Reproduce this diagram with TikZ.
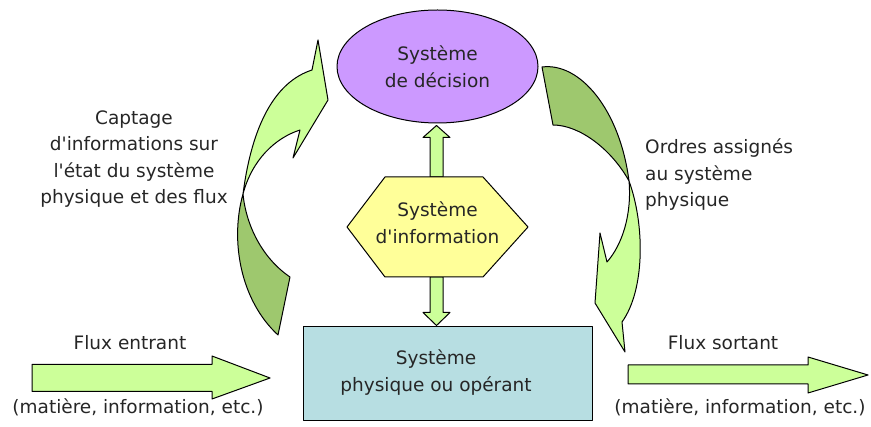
\documentclass[tikz,border=0pt]{standalone}
\usepackage{fontspec}
\setmainfont{DejaVu Sans}[Ligatures=TeXOff]
\usetikzlibrary{calc,shapes.geometric}
\definecolor{lgreen}{RGB}{204,255,153}
\definecolor{dgreen}{RGB}{158,200,110}
\definecolor{lpurple}{RGB}{204,153,255}
\definecolor{lyellow}{RGB}{255,255,153}
\definecolor{lblue}{RGB}{183,222,226}
\begin{document}
\begin{tikzpicture}[x=1pt,y=-1pt,
  font=\fontsize{18.5}{26.5}\selectfont,
  outl/.style={draw=black,line width=1pt,line join=round},
  lightarr/.style={outl,fill=lgreen},
  darkarr/.style={outl,fill=dgreen},
  txt/.style={align=center,inner sep=0pt,text=black!85}]
\useasboundingbox (0,0) rectangle (871,427);

% ---- left curved arrow (Captage)
\draw[darkarr] (243,194) .. controls (230,240) and (240,300) .. (278,335)
  -- (290,277) .. controls (262,258) and (246,225) .. (243,194) -- cycle;
\draw[lightarr] (243,194) .. controls (252,125) and (275,82) .. (312,70)
  -- (318,40) -- (328,100) -- (293,158) -- (300,130)
  .. controls (275,138) and (252,160) .. (243,194) -- cycle;

% ---- right curved arrow (Ordres)
\draw[darkarr] (542,67) .. controls (580,62) and (620,110) .. (629,181)
  .. controls (612,150) and (580,125) .. (553,125) -- cycle;
\draw[lightarr] (629,181) .. controls (645,225) and (645,290) .. (622,322)
  -- (625,352) -- (595,303) -- (600,233) -- (607,262)
  .. controls (622,245) and (632,215) .. (629,181) -- cycle;

% ---- nodes
\node[ellipse,outl,fill=lpurple,minimum width=201pt,minimum height=113pt,txt] (dec) at (437.5,66.5) {Système\\de décision};

\coordinate (hexW) at (347,227);
\coordinate (hexE) at (528,227);
\coordinate (hexN) at (436.5,177);
\coordinate (hexS) at (436.5,277);
\node[rectangle,outl,fill=lblue,minimum width=289pt,minimum height=94pt] (phys) at (447.5,374) {};

% ---- straight double-ended connectors
\coordinate (u1) at ($(dec.south)+(-1,2)$);
\draw[lightarr] (u1) -- ($(u1)+(13.5,12)$) -- ($(u1)+(6.5,12)$) -- ($(hexN)+(6.5,0)$)
  -- ($(hexN)+(-6.5,0)$) -- ($(u1)+(-6.5,12)$) -- ($(u1)+(-13.5,12)$) -- cycle;
\coordinate (l1) at ($(hexS |- phys.north)+(0,-1)$);
\draw[lightarr] (l1) -- ($(l1)+(13.5,-13)$) -- ($(l1)+(6.5,-13)$) -- ($(hexS)+(6.5,0)$)
  -- ($(hexS)+(-6.5,0)$) -- ($(l1)+(-6.5,-13)$) -- ($(l1)+(-13.5,-13)$) -- cycle;

% hexagon
\draw[outl,fill=lyellow] (hexW) -- (385,177) -- (483,177) -- (hexE) -- (483,277) -- (385,277) -- cycle;
\node[txt] (info) at (437.5,222.5) {Système\\d'information};
\node[txt] (physt) at (436,372.7) {Système\\physique ou opérant};

% ---- flux arrows
\coordinate (fin0) at (32,378);
\coordinate (fin1) at (270,378);
\draw[lightarr] (fin0) -- ++(0,-13.5) -- ($(fin1)+(-58,-13.5)$) -- ($(fin1)+(-58,-22)$) -- (fin1)
  -- ($(fin1)+(-58,21)$) -- ($(fin1)+(-58,13.5)$) -- ($(fin0)+(0,13.5)$) -- cycle;
\coordinate (fout0) at (628,375);
\coordinate (fout1) at (868,375);
\draw[lightarr] (fout0) -- ++(0,-10) -- ($(fout1)+(-60,-10)$) -- ($(fout1)+(-60,-18)$) -- (fout1)
  -- ($(fout1)+(-60,18)$) -- ($(fout1)+(-60,9)$) -- ($(fout0)+(0,9)$) -- cycle;

% ---- labels
\node[txt] (fe) at (130,343) {Flux entrant};
\node[txt] (fem) at (138,407) {(matière, information, etc.)};
\node[txt] (fs) at (723,343) {Flux sortant};
\node[txt] (fsm) at (740,407) {(matière, information, etc.)};
\node[txt] (capt) at (134,159) {Captage\\d'informations sur\\l'état du système\\physique et des flux};
\node[txt,align=left,anchor=west] (ord) at (645,174.7) {Ordres assignés\\au système\\physique};
\end{tikzpicture}
\end{document}
